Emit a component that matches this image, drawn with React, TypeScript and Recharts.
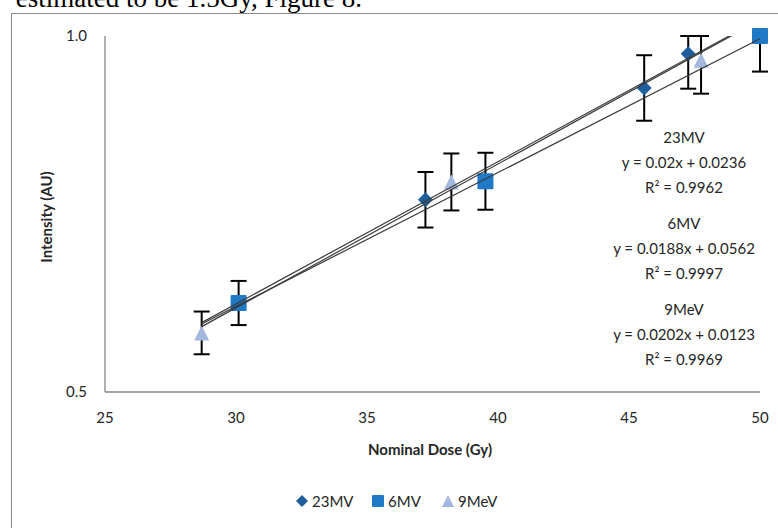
import React from "react";
import { ComposedChart, ErrorBar, Scatter, XAxis, YAxis } from "recharts";

// values
const doses23 = [37.23, 45.58, 47.26];
const intensity23 = [0.77, 0.927, 0.975];
const errors23 = [0.039, 0.046, 0.049];

const doses6 = [30.1, 39.52, 50];
const intensity6 = [0.625, 0.796, 1.0];
const errors6 = [0.031, 0.04, 0.05];

const doses9 = [28.69, 38.22, 47.75];
const intensity9 = [0.583, 0.795, 0.966];
const errors9 = [0.03, 0.04, 0.047];

const seriesNames = ["23MV", "6MV", "9MeV"];
const seriesColors = ["#1f5f9e", "#2079c7", "#a3b8dc"];
const slopes = [0.02, 0.0188, 0.0202];
const intercepts = [0.0236, 0.0562, 0.0123];
const rSquared = ["0.9962", "0.9997", "0.9969"];
const trendRange = [28.69, 50];

const xTicks = [25, 30, 35, 40, 45, 50];
const yTicks = [0.5, 1.0];
const yMax = 1.0;

const FONT = "Lato, 'Open Sans', sans-serif";
const AXIS = "#868686";
const TEXT = "#262626";

function toPoints(xs: number[], ys: number[], errs: number[]) {
  return xs.map((x, i) => ({ x, y: ys[i], err: errs[i] }));
}

const series = [
  toPoints(doses23, intensity23, errors23),
  toPoints(doses6, intensity6, errors6),
  toPoints(doses9, intensity9, errors9)
];

const trendLines = slopes.map((m, i) => trendRange.map((x) => ({ x, y: m * x + intercepts[i] })));

// error bars get cut at the top of the plot, like in the original
const clippedError = (d: any) => {
  const p = d.payload ?? d;
  return [p.err, Math.max(0, Math.min(p.err, yMax - p.y))];
};

function Diamond({ cx, cy, fill, r = 7.5 }: any) {
  return <polygon points={`${cx},${cy - r} ${cx + r},${cy} ${cx},${cy + r} ${cx - r},${cy}`} fill={fill} />;
}

function Square({ cx, cy, fill, r = 8 }: any) {
  return <rect x={cx - r} y={cy - r} width={2 * r} height={2 * r} rx={1} fill={fill} />;
}

function Triangle({ cx, cy, fill, r = 7.5 }: any) {
  return <polygon points={`${cx},${cy - r} ${cx + r},${cy + r} ${cx - r},${cy + r}`} fill={fill} />;
}

const markers = [Diamond, Square, Triangle];

export default function App() {
  return (
    <div
      style={{
        position: "fixed",
        left: 0,
        top: 0,
        width: 778,
        height: 528,
        overflow: "hidden",
        background: "#fff"
      }}
    >
      <div
        style={{
          position: "absolute",
          left: 11,
          top: 13,
          width: 820,
          height: 600,
          border: "1px solid #8a8a8a"
        }}
      />

      <div style={{ position: "absolute", left: 0, top: 0 }}>
        <ComposedChart width={778} height={528} margin={{ top: 36, right: 18, bottom: 106, left: 55 }}>
          <XAxis
            type="number"
            dataKey="x"
            domain={[25, 50]}
            ticks={xTicks}
            tickLine={false}
            tickSize={0}
            tickMargin={20}
            axisLine={{ stroke: AXIS, strokeWidth: 1.3 }}
            tick={{ fill: TEXT, fontSize: 15, fontFamily: FONT }}
            height={30}
          />
          <YAxis
            yAxisId="main"
            type="number"
            dataKey="y"
            domain={[0.5, 1]}
            ticks={yTicks}
            tickFormatter={(v: number) => v.toFixed(1)}
            tickLine={false}
            tickSize={0}
            tickMargin={18}
            axisLine={{ stroke: AXIS, strokeWidth: 1.3 }}
            tick={{ fill: TEXT, fontSize: 15, fontFamily: FONT }}
            width={50}
          />
          <YAxis
            yAxisId="clip"
            orientation="right"
            width={0}
            type="number"
            dataKey="y"
            domain={[0.5, 1]}
            allowDataOverflow
            hide
          />

          {series.map((data, i) => (
            <Scatter
              key={`err-${i}`}
              yAxisId="main"
              data={data}
              shape={() => <g />}
              legendType="none"
              isAnimationActive={false}
            >
              <ErrorBar
                dataKey={clippedError}
                direction="y"
                width={8}
                stroke="#000"
                strokeWidth={2}
                isAnimationActive={false}
              />
            </Scatter>
          ))}

          {series.map((data, i) => {
            const Marker = markers[i];
            return (
              <Scatter
                key={seriesNames[i]}
                name={seriesNames[i]}
                yAxisId="main"
                data={data}
                fill={seriesColors[i]}
                shape={(p: any) => <Marker cx={p.cx} cy={p.cy} fill={seriesColors[i]} />}
                isAnimationActive={false}
              />
            );
          })}

          {trendLines.map((data, i) => (
            <Scatter
              key={`trend-${i}`}
              yAxisId="clip"
              data={data}
              line={{ stroke: "#3a3a3a", strokeWidth: 1.2 }}
              shape={() => <g />}
              legendType="none"
              isAnimationActive={false}
            />
          ))}
        </ComposedChart>
      </div>

      <svg
        width={778}
        height={528}
        style={{ position: "absolute", left: 0, top: 0, pointerEvents: "none" }}
        fontFamily={FONT}
      >
        <text x={362} y={7} textAnchor="end" fontFamily="'Liberation Serif', serif" fontSize={27} fill="#000">
          estimated to be 1.5Gy, Figure 8.
        </text>

        <text
          x={46}
          y={217}
          transform="rotate(-90 46 217)"
          textAnchor="middle"
          dominantBaseline="central"
          fontSize={15}
          fontWeight="bold"
          fill={TEXT}
        >
          Intensity (AU)
        </text>
        <text x={430} y={449} textAnchor="middle" dominantBaseline="central" fontSize={15} fontWeight="bold" fill={TEXT}>
          Nominal Dose (Gy)
        </text>

        {seriesNames.map((name, i) => {
          const top = 137 + i * 86;
          return (
            <g key={name} fontSize={15} fill={TEXT} textAnchor="middle">
              <text x={684} y={top} dominantBaseline="central">
                {name}
              </text>
              <text x={684} y={top + 25} dominantBaseline="central">
                {`y = ${slopes[i]}x + ${intercepts[i]}`}
              </text>
              <text x={684} y={top + 50} dominantBaseline="central">
                R² = {rSquared[i]}
              </text>
            </g>
          );
        })}

        {seriesNames.map((name, i) => {
          const Marker = markers[i];
          const iconX = [302, 378, 448][i];
          return (
            <g key={`legend-${name}`}>
              <Marker cx={iconX} cy={501} fill={seriesColors[i]} r={6} />
              <text x={iconX + 10} y={501} dominantBaseline="central" fontSize={15} fill={TEXT}>
                {name}
              </text>
            </g>
          );
        })}
      </svg>
    </div>
  );
}
